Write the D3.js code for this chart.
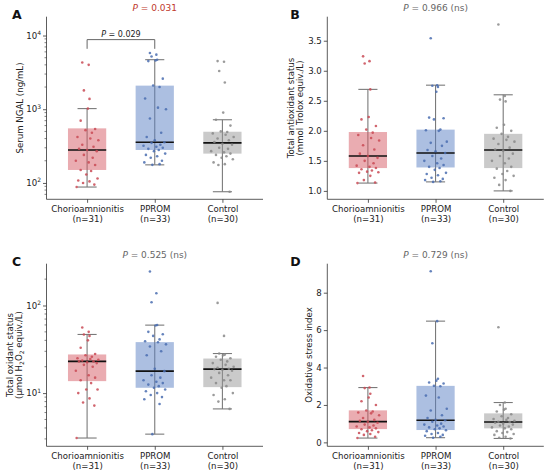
<!DOCTYPE html>
<html>
<head>
<meta charset="utf-8">
<script src="https://cdn.jsdelivr.net/npm/d3@7"></script>
<style>
  body { margin: 0; background: #fff; }
  text { font-family: "DejaVu Sans", sans-serif; }
</style>
</head>
<body>
<svg id="chart" width="550" height="475"></svg>
<script>
const groups = ['Chorioamnionitis', 'PPROM', 'Control'];
const groupN = ['(n=31)', '(n=33)', '(n=30)'];
const fillColors = ['#d65a63', '#5a7fc4', '#959595'];
const dotColors = ['#c94a55', '#4a6db0', '#8a8a8a'];

// horizontal jitter, fraction of half box width
const jitter = [-0.3, 0.1, -0.2, 0.15, 0.05, -0.4, 0.5, -0.1, 0.3, -0.6, 0.2, 0.7, -0.3, 0.4,
  -0.5, 0.0, 0.6, -0.2, 0.35, -0.7, 0.1, 0.5, -0.4, 0.25, -0.05, 0.65, -0.55, 0.15, -0.25, 0.45,
  -0.65, 0.3, -0.15];

// A: serum NGAL (ng/mL)
const ngalValues = [
  [4300, 4000, 1800, 1380, 1020, 700, 540, 520, 480, 420, 400, 380, 330, 310, 290, 280, 270, 240,
    220, 200, 190, 175, 150, 145, 130, 115, 108, 105, 100, 95, 88],
  [5800, 5500, 5200, 4700, 4600, 4500, 2600, 2100, 2000, 1400, 1050, 1000, 750, 480, 420, 380, 357,
    350, 330, 320, 310, 300, 290, 280, 270, 250, 240, 230, 220, 200, 190, 180, 176],
  [4500, 4400, 3300, 2300, 900, 720, 600, 500, 490, 470, 450, 420, 400, 380, 360, 340, 330, 300,
    290, 270, 260, 250, 240, 230, 220, 210, 190, 180, 175, 76]
];
// [whisker low, q1, median, q3, whisker high]
const ngalBoxes = [[88, 150, 280, 550, 1020], [176, 280, 357, 2090, 4700], [76, 250, 350, 495, 720]];

// B: total antioxidant status
const tasValues = [
  [3.24, 3.16, 3.12, 2.69, 2.23, 2.19, 2.08, 2.02, 1.97, 1.93, 1.88, 1.84, 1.76, 1.69, 1.62, 1.58,
    1.55, 1.50, 1.46, 1.42, 1.40, 1.38, 1.36, 1.34, 1.32, 1.31, 1.30, 1.25, 1.18, 1.14, 1.13],
  [3.54, 2.76, 2.75, 2.73, 2.65, 2.22, 2.21, 2.19, 2.02, 2.01, 2.00, 1.82, 1.80, 1.75, 1.68, 1.66,
    1.63, 1.58, 1.54, 1.50, 1.46, 1.43, 1.40, 1.38, 1.35, 1.30, 1.28, 1.26, 1.22, 1.20, 1.18, 1.16, 1.15],
  [3.77, 2.58, 2.52, 2.49, 2.10, 2.05, 2.00, 1.95, 1.90, 1.87, 1.85, 1.82, 1.78, 1.72, 1.69, 1.67,
    1.62, 1.58, 1.54, 1.50, 1.46, 1.40, 1.37, 1.33, 1.28, 1.25, 1.22, 1.18, 1.10, 1.00]
];
const tasBoxes = [[1.13, 1.38, 1.58, 1.98, 2.69], [1.15, 1.39, 1.63, 2.02, 2.76], [1.00, 1.38, 1.68, 1.95, 2.60]];

// C: total oxidant status
const tosValues = [
  [56, 50, 46.7, 45, 40, 33, 28, 27, 26, 25, 24.5, 24, 23.5, 23, 23, 22.5, 22, 21, 20, 18, 16, 15,
    14, 13, 11, 11, 10, 8.7, 7.8, 7.2, 3.07],
  [244, 138, 109, 60, 59, 50, 47, 45, 41, 39, 38, 36, 34, 30, 27, 19, 17.8, 16, 15, 14, 13.5, 13,
    12.5, 12, 11.5, 11, 10.5, 10, 9.5, 9, 8.5, 7.5, 3.4],
  [107, 45, 28.3, 27.5, 27, 26, 25, 24, 23, 22, 21, 20, 19.5, 19, 18.8, 18.5, 18, 17, 16, 15, 14,
    14, 13, 12, 11.5, 10, 9.5, 8.5, 8, 6.6]
];
const tosBoxes = [[3.07, 13.7, 23, 27.6, 46.7], [3.4, 11.5, 17.8, 38.2, 59.7], [6.6, 11.7, 18.8, 24.8, 28.3]];

// D: oxidative stress index
const osiValues = [
  [3.55, 2.93, 2.9, 2.6, 2.4, 2.2, 2.0, 1.7, 1.65, 1.6, 1.55, 1.45, 1.3, 1.2, 1.15, 1.1, 1.05, 0.95,
    0.9, 0.85, 0.8, 0.75, 0.7, 0.65, 0.6, 0.55, 0.5, 0.45, 0.4, 0.3, 0.23],
  [9.15, 6.48, 5.3, 3.4, 3.3, 3.2, 3.15, 3.02, 3.0, 2.5, 2.4, 1.8, 1.7, 1.45, 1.3, 1.2, 1.18, 1.1,
    1.0, 0.95, 0.9, 0.85, 0.8, 0.75, 0.7, 0.65, 0.6, 0.5, 0.45, 0.4, 0.35, 0.3, 0.25],
  [6.15, 2.13, 2.0, 1.8, 1.75, 1.65, 1.5, 1.4, 1.3, 1.25, 1.2, 1.15, 1.1, 1.09, 1.05, 1.0, 0.95,
    0.9, 0.85, 0.8, 0.75, 0.7, 0.6, 0.55, 0.5, 0.45, 0.4, 0.3, 0.25, 0.21]
];
const osiBoxes = [[0.23, 0.71, 1.11, 1.71, 2.93], [0.25, 0.66, 1.18, 3.02, 6.48], [0.21, 0.75, 1.09, 1.55, 2.13]];

const panels = [
  { letter: 'A', left: 46.5, top: 16.7, title: 'P = 0.031', ns: false, red: true,
    label: ['Serum NGAL (ng/mL)'], log: true, domain: [60, 18000], ticks: [100, 1000, 10000],
    values: ngalValues, boxes: ngalBoxes, bracket: { from: 0, to: 1, top: 8800, leg: 6600, text: 'P = 0.029' } },
  { letter: 'B', left: 327.3, top: 16.7, title: 'P = 0.966', ns: true,
    label: ['Total antioxidant status', '(mmol Trolox equiv./L)'], log: false, domain: [0.86, 3.9],
    ticks: [1.0, 1.5, 2.0, 2.5, 3.0, 3.5], fmt: '.1f', values: tasValues, boxes: tasBoxes },
  { letter: 'C', left: 46.5, top: 263.7, title: 'P = 0.525', ns: true,
    label: ['Total oxidant status', 'H2O2'], log: true, domain: [2.47, 300], ticks: [10, 100],
    values: tosValues, boxes: tosBoxes },
  { letter: 'D', left: 327.3, top: 263.7, title: 'P = 0.729', ns: true,
    label: ['Oxidative stress index'], log: false, domain: [-0.21, 9.55], ticks: [0, 2, 4, 6, 8],
    fmt: 'd', values: osiValues, boxes: osiBoxes }
];

const W = 216.5;
const H = 182.6;
const FS = 8.6;
const svg = d3.select('#chart');

for (const p of panels) {
  const g = svg.append('g').attr('transform', `translate(${p.left},${p.top})`);
  const x = d3.scalePoint().domain(groups).range([0, W]).padding(0.6);
  const y = (p.log ? d3.scaleLog() : d3.scaleLinear()).domain(p.domain).range([H, 0]);
  const boxW = x.step() * 0.565;

  // y axis
  const yAxis = g.append('g').call(d3.axisLeft(y).tickValues(p.ticks).tickSize(3.5).tickPadding(2)
    .tickFormat(p.log ? () => '' : d3.format(p.fmt)));
  if (p.log) {
    yAxis.selectAll('.tick text').each(function (d) {
      const t = d3.select(this);
      t.append('tspan').text('10');
      t.append('tspan').attr('dy', -3.8).attr('font-size', 6).text(String(Math.round(Math.log10(d))));
    });
    const minor = [];
    for (let e = -1; e < 5; e++) for (let k = 2; k < 10; k++) {
      const v = k * Math.pow(10, e);
      if (v > p.domain[0] && v < p.domain[1]) minor.push(v);
    }
    g.append('g').selectAll('line').data(minor).join('line')
      .attr('x1', 0).attr('x2', -2).attr('y1', d => y(d)).attr('y2', d => y(d))
      .attr('stroke', '#333').attr('stroke-width', 0.6);
  }
  yAxis.selectAll('.tick text').attr('font-size', FS).attr('fill', '#222');
  yAxis.select('.domain').attr('d', `M0,${H}V0`).attr('stroke', '#333').attr('stroke-width', 0.8);
  yAxis.selectAll('.tick line').attr('stroke', '#333').attr('stroke-width', 0.8);

  // x axis
  const xAxis = g.append('g').attr('transform', `translate(0,${H})`)
    .call(d3.axisBottom(x).tickSize(3.5).tickPadding(3));
  xAxis.select('.domain').attr('d', `M0,0H${W}`).attr('stroke', '#333').attr('stroke-width', 0.8);
  xAxis.selectAll('.tick line').attr('stroke', '#333').attr('stroke-width', 0.8);
  xAxis.selectAll('.tick text').attr('font-size', FS).attr('fill', '#222')
    .each(function (d, i) {
      const t = d3.select(this).text(null);
      t.append('tspan').attr('x', 0).text(d);
      t.append('tspan').attr('x', 0).attr('dy', 10).text(groupN[i]);
    });

  // boxes
  groups.forEach((name, i) => {
    const [lo, q1, med, q3, hi] = p.boxes[i];
    const cx = x(name);
    const bg = g.append('g');
    bg.append('line').attr('x1', cx).attr('x2', cx).attr('y1', y(lo)).attr('y2', y(hi))
      .attr('stroke', '#7a7a7a').attr('stroke-width', 1.1);
    [lo, hi].forEach(v => bg.append('line').attr('x1', cx - boxW / 4).attr('x2', cx + boxW / 4)
      .attr('y1', y(v)).attr('y2', y(v)).attr('stroke', '#7a7a7a').attr('stroke-width', 1.1));
    bg.append('rect').attr('x', cx - boxW / 2).attr('width', boxW)
      .attr('y', y(q3)).attr('height', y(q1) - y(q3))
      .attr('fill', fillColors[i]).attr('fill-opacity', 0.5);
    bg.append('line').attr('x1', cx - boxW / 2).attr('x2', cx + boxW / 2)
      .attr('y1', y(med)).attr('y2', y(med)).attr('stroke', '#111').attr('stroke-width', 1.6);
    bg.selectAll('circle').data(p.values[i]).join('circle')
      .attr('cx', (d, j) => cx + jitter[j] * boxW * 0.42)
      .attr('cy', d => y(d))
      .attr('r', 1.3)
      .attr('fill', dotColors[i]).attr('fill-opacity', 0.85);
  });

  // significance bracket
  if (p.bracket) {
    const b = p.bracket;
    const x1 = x(groups[b.from]);
    const x2 = x(groups[b.to]);
    g.append('path').attr('d', `M${x1},${y(b.leg)}V${y(b.top)}H${x2}V${y(b.leg)}`)
      .attr('fill', 'none').attr('stroke', '#666').attr('stroke-width', 1);
    const bt = g.append('text').attr('x', (x1 + x2) / 2).attr('y', y(b.top) - 3)
      .attr('text-anchor', 'middle').attr('font-size', 8).attr('fill', '#222');
    bt.append('tspan').attr('font-style', 'italic').text('P');
    bt.append('tspan').text(' = 0.029');
  }

  // title
  const tt = g.append('text').attr('x', W / 2).attr('y', -5.5).attr('text-anchor', 'middle')
    .attr('font-size', 9).attr('fill', p.red ? '#c0392b' : '#666');
  tt.append('tspan').attr('font-style', 'italic').text('P');
  tt.append('tspan').text(p.title.slice(1) + (p.ns ? ' (ns)' : ''));

  // panel letter
  g.append('text').attr('x', p.letter === 'A' || p.letter === 'C' ? -34.5 : -37).attr('y', 2.5)
    .attr('font-size', 12.5).attr('font-weight', 'bold').attr('fill', '#111').text(p.letter);

  // y label
  const lab = g.append('text').attr('transform', `translate(0,${H / 2}) rotate(-90)`)
    .attr('text-anchor', 'middle').attr('font-size', FS).attr('fill', '#222');
  if (p.label.length === 1) {
    lab.attr('y', p.letter === 'A' ? -24 : -15).text(p.label[0]);
  } else if (p.letter === 'B') {
    lab.append('tspan').attr('x', 0).attr('y', -33).text(p.label[0]);
    lab.append('tspan').attr('x', 0).attr('y', -24).text(p.label[1]);
  } else {
    lab.append('tspan').attr('x', 0).attr('y', -34).text(p.label[0]);
    lab.append('tspan').attr('x', 0).attr('y', -25).text('(µmol H');
    lab.append('tspan').attr('dy', 2).attr('font-size', 6).text('2');
    lab.append('tspan').attr('dy', -2).text('O');
    lab.append('tspan').attr('dy', 2).attr('font-size', 6).text('2');
    lab.append('tspan').attr('dy', -2).text(' equiv./L)');
  }
}
</script>
</body>
</html>
